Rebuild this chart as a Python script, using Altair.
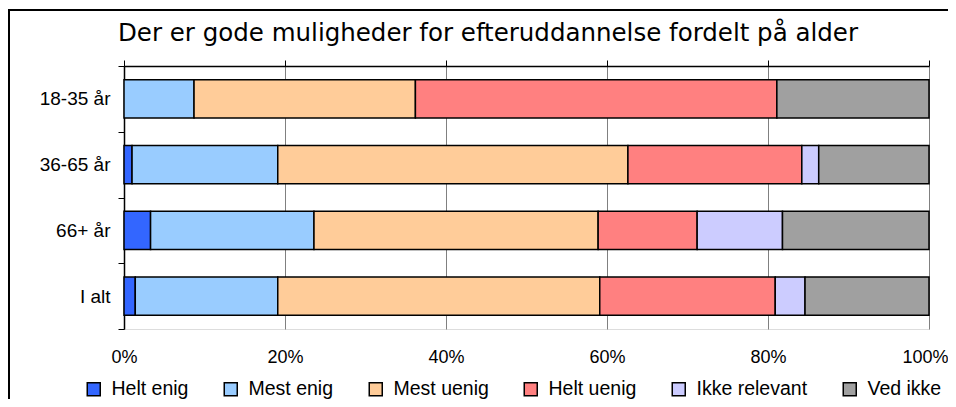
import altair as alt
import pandas as pd

categories = ["18-35 år", "36-65 år", "66+ år", "I alt"]
series = ["Helt enig", "Mest enig", "Mest uenig", "Helt uenig", "Ikke relevant", "Ved ikke"]
colors = ["#3366FF", "#99CCFF", "#FFCC99", "#FF8080", "#CCCCFF", "#A0A0A0"]

helt_enig = [0.0, 1.0, 3.3, 1.4]
mest_enig = [8.7, 18.1, 20.3, 17.7]
mest_uenig = [27.5, 43.5, 35.3, 40.0]
helt_uenig = [44.9, 21.6, 12.3, 21.8]
ikke_relevant = [0.0, 2.1, 10.6, 3.7]
ved_ikke = [18.9, 13.7, 18.2, 15.4]

tick_values = [0, 0.2, 0.4, 0.6, 0.8, 1.0]

title_text = "Der er gode muligheder for efteruddannelse fordelt på alder"

values = [helt_enig, mest_enig, mest_uenig, helt_uenig, ikke_relevant, ved_ikke]
rows = []
for i, c in enumerate(categories):
    for j, s in enumerate(series):
        v = values[j][i]
        if v > 0:
            rows.append({"group": c, "series": s, "order": j, "value": v})
df = pd.DataFrame(rows)

FONT = "Liberation Sans"

x_scale = alt.Scale(domain=[0, 1], nice=False)

bars = alt.Chart(df).mark_bar(
    stroke="black", strokeWidth=1.5, height={"band": 0.58}
).encode(
    y=alt.Y(
        "group:N",
        sort=categories,
        scale=alt.Scale(paddingInner=0, paddingOuter=0),
        axis=alt.Axis(
            title=None,
            domainColor="black",
            domainWidth=1.5,
            tickColor="black",
            tickWidth=1,
            tickSize=6,
            tickBand="extent",
            labelFont=FONT,
            labelFontSize=19,
            labelColor="black",
            labelPadding=8,
        ),
    ),
    x=alt.X(
        "value:Q",
        stack="normalize",
        scale=x_scale,
        axis=alt.Axis(
            title=None,
            orient="bottom",
            values=tick_values,
            format=".0%",
            domain=False,
            ticks=False,
            grid=True,
            gridColor="#808080",
            gridWidth=1,
            labelFont=FONT,
            labelFontSize=18,
            labelColor="black",
            labelPadding=19,
            labelFlush=False,
            labelBound=False,
            labelAlign=alt.condition("datum.value == 1", alt.value("right"), alt.value("center")),
            labelOffset=alt.condition("datum.value == 1", alt.value(19), alt.value(0)),
        ),
    ),
    color=alt.Color(
        "series:N",
        sort=series,
        scale=alt.Scale(domain=series, range=colors),
        legend=alt.Legend(
            title=None,
            orient="none",
            legendX=-40,
            legendY=313,
            direction="horizontal",
            symbolType="square",
            symbolSize=169,
            symbolStrokeColor="black",
            symbolStrokeWidth=1.5,
            symbolOpacity=1,
            labelFont=FONT,
            labelFontSize=19.5,
            labelColor="black",
            labelOffset=8,
            columnPadding=32,
            padding=0,
        ),
    ),
    order=alt.Order("order:Q", sort="ascending"),
)

top_df = pd.DataFrame({"t": tick_values})
top_axis = alt.Chart(top_df).mark_rule(opacity=0).encode(
    x=alt.X(
        "t:Q",
        scale=x_scale,
        axis=alt.Axis(
            title=None,
            orient="top",
            values=tick_values,
            labels=False,
            grid=False,
            domainColor="black",
            domainWidth=1.5,
            tickColor="black",
            tickSize=6,
            tickWidth=1,
        ),
    ),
)

border_df = pd.DataFrame({"k": [1]})
border_left = alt.Chart(border_df).mark_rule(color="black", strokeWidth=2).encode(
    x=alt.value(-115), y=alt.value(-56), y2=alt.value(340)
)
border_top = alt.Chart(border_df).mark_rule(color="black", strokeWidth=2).encode(
    x=alt.value(-116), x2=alt.value(840), y=alt.value(-56)
)

chart = (
    alt.layer(bars, top_axis, border_left, border_top)
    .resolve_axis(x="independent")
    .properties(
        width=805,
        height=263,
        padding={"left": 116, "top": 58, "right": 19, "bottom": 70},
        autosize=alt.AutoSizeParams(type="none"),
        title=alt.TitleParams(
            title_text,
            font="DejaVu Sans",
            fontSize=24.5,
            fontWeight="normal",
            color="black",
            anchor="start",
            frame="group",
            dx=-6,
            dy=56,
            baseline="alphabetic",
            offset=0,
        ),
    )
    .configure_view(stroke="#A0A0A0", strokeWidth=1.5)
    .configure(background="white")
)

chart.save("out.html", embed_options={"renderer": "svg", "actions": False})
